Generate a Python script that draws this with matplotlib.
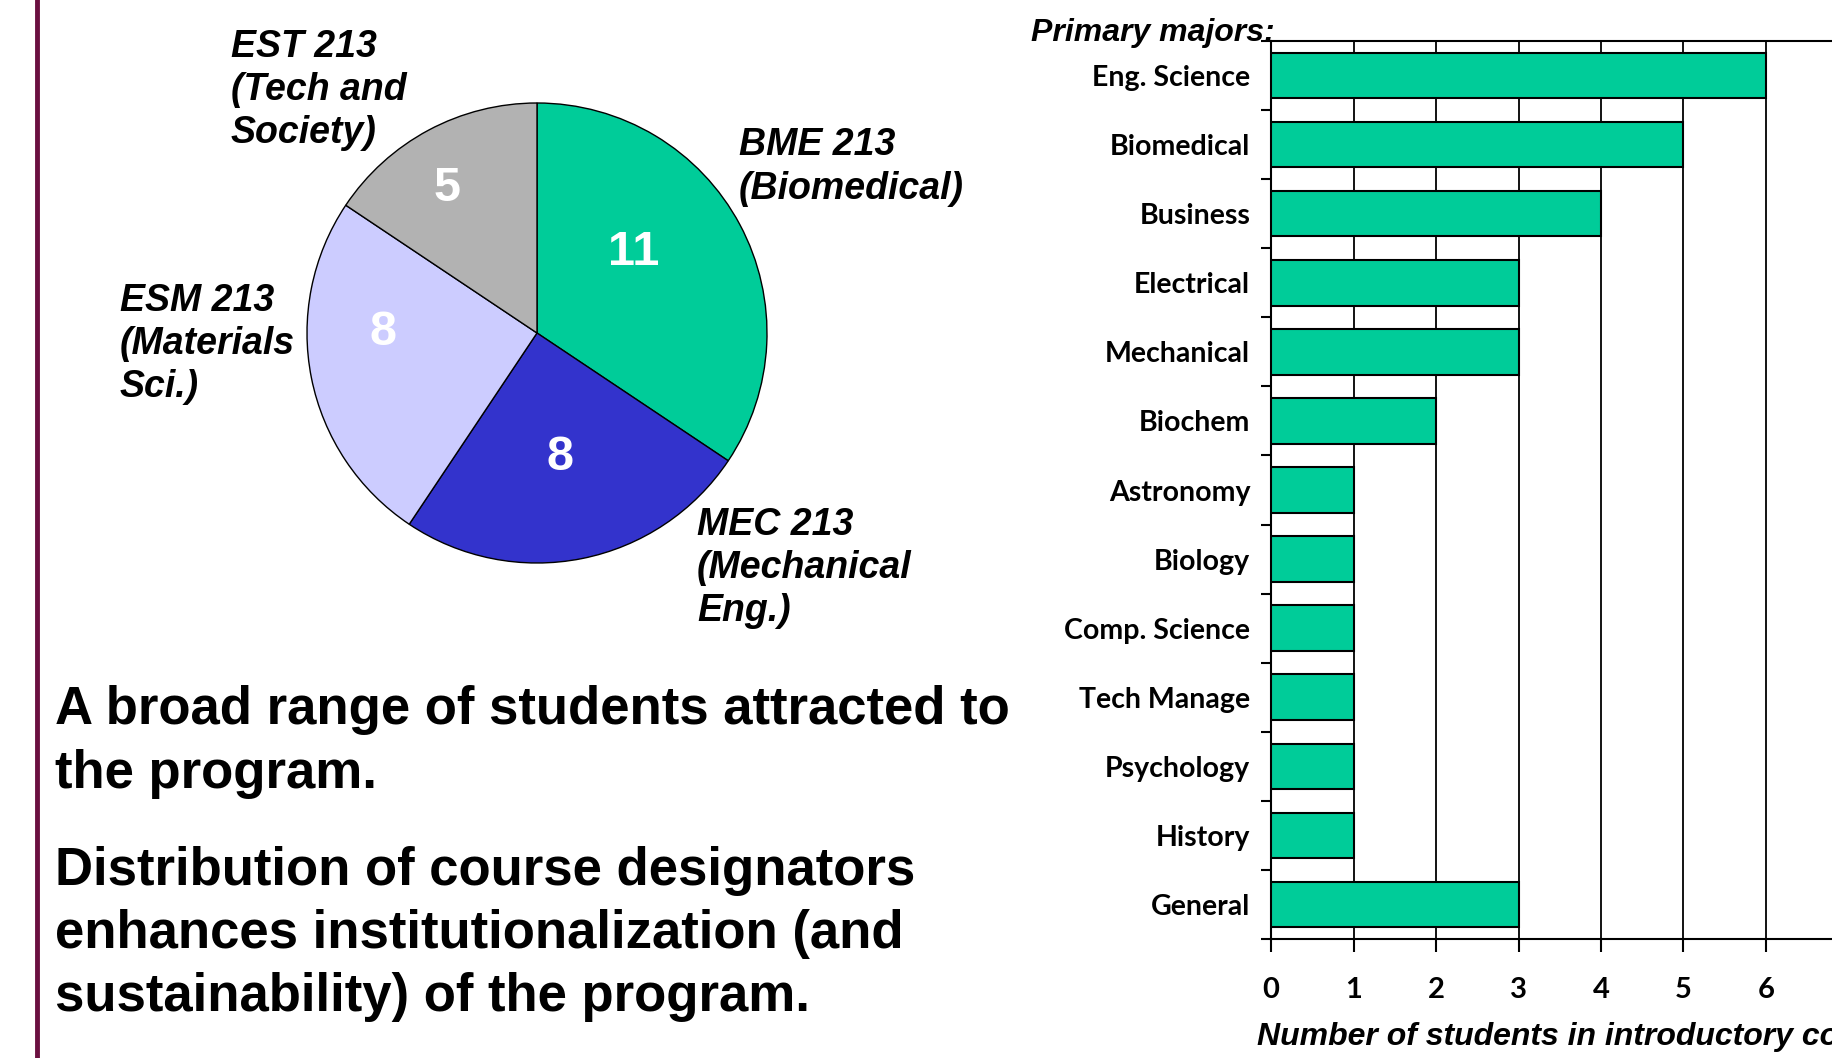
import matplotlib.pyplot as plt
from matplotlib.lines import Line2D
import numpy as np

# Pie data: introductory course designators
courses = ['BME 213\n(Biomedical)', 'MEC 213\n(Mechanical\nEng.)',
           'ESM 213\n(Materials\nSci.)', 'EST 213\n(Tech and\nSociety)']
course_counts = [11, 8, 8, 5]
course_colors = ['#00CC99', '#3333CC', '#CCCCFF', '#B2B2B2']

# Bar data: primary majors
majors = ['Eng. Science', 'Biomedical', 'Business', 'Electrical', 'Mechanical',
          'Biochem', 'Astronomy', 'Biology', 'Comp. Science', 'Tech Manage',
          'Psychology', 'History', 'General']
major_counts = [6, 5, 4, 3, 3, 2, 1, 1, 1, 1, 1, 1, 3]
x_ticks = [0, 1, 2, 3, 4, 5, 6]

W, H = 1833, 1058
fig = plt.figure(figsize=(W / 100, H / 100), dpi=100)
fig.patch.set_facecolor('white')


def fx(px):
    return px / W


def fy(py):
    return 1 - py / H


ARIAL = ['Liberation Sans', 'DejaVu Sans']
CALIBRI = ['Lato', 'DejaVu Sans']

# maroon rule on the left
fig.add_artist(Line2D([fx(37), fx(37)], [0, 1], color='#6B1040', lw=3.5))

# ---- pie ----
cx, cy, r = 537, 333, 230
ax_pie = fig.add_axes([fx(cx - r), fy(cy + r), 2 * r / W, 2 * r / H])
ax_pie.pie(course_counts, colors=course_colors, startangle=90, counterclock=False,
           wedgeprops=dict(edgecolor='black', linewidth=1))
ax_pie.set_xlim(-1, 1)
ax_pie.set_ylim(-1, 1)

# value labels inside wedges (offsets in radius units)
value_pos = [(0.42, 0.35), (0.10, -0.54), (-0.67, 0.00), (-0.39, 0.63)]
for (px, py), n in zip(value_pos, course_counts):
    ax_pie.text(px, py, str(n), ha='center', va='center', color='white',
                fontsize=35, fontweight='bold', family=ARIAL)

# course labels outside the pie (left x, block center y in pixels)
label_pos = [(739, 167), (697, 568), (120, 344), (231, 90)]
for (lx, ly), name in zip(label_pos, courses):
    fig.text(fx(lx), fy(ly), name, ha='left', va='center', fontsize=27,
             fontweight='bold', style='italic', family=ARIAL, linespacing=1.26)

# body text
fig.text(fx(55), fy(742), 'A broad range of students attracted to\nthe program.',
         ha='left', va='center', fontsize=38, fontweight='bold', family=ARIAL,
         linespacing=1.34)
fig.text(fx(55), fy(934), 'Distribution of course designators\n'
         'enhances institutionalization (and\nsustainability) of the program.',
         ha='left', va='center', fontsize=38, fontweight='bold', family=ARIAL,
         linespacing=1.34)

# ---- horizontal bars ----
ax = fig.add_axes([fx(1271), fy(939), (1848.5 - 1271) / W, (939 - 41) / H])
y = np.arange(len(majors))
ax.barh(y, major_counts, height=0.66, color='#00CC99', edgecolor='black',
        linewidth=1.5, zorder=3)
ax.set_xlim(0, 7)
ax.set_ylim(len(majors) - 0.5, -0.5)
ax.set_xticks(x_ticks)
ax.xaxis.grid(True, color='black', linewidth=1.3)
ax.set_axisbelow(True)

ax.set_yticks(np.arange(len(majors) + 1) - 0.5)
ax.set_yticklabels([])
ax.set_yticks(y, minor=True)
ax.set_yticklabels(majors, minor=True)
ax.tick_params(axis='y', which='major', direction='out', length=7, width=1.5)
ax.tick_params(axis='y', which='minor', length=0, pad=15)
ax.tick_params(axis='x', direction='out', length=9, width=1.5, pad=18)
for lab in ax.get_yticklabels(minor=True):
    lab.set_fontsize(20.5)
    lab.set_fontweight('bold')
    lab.set_family(CALIBRI)
for lab in ax.get_xticklabels():
    lab.set_fontsize(21)
    lab.set_fontweight('bold')
    lab.set_family(CALIBRI)
for s in ax.spines.values():
    s.set_linewidth(1.5)

fig.text(fx(1031), fy(33), 'Primary majors:', ha='left', va='center', fontsize=23,
         fontweight='bold', style='italic', family=ARIAL)
fig.text(fx(1257), fy(1037), 'Number of students in introductory courses',
         ha='left', va='center', fontsize=23, fontweight='bold', style='italic',
         family=ARIAL)

fig.savefig('out.png', dpi=100, facecolor='white')
